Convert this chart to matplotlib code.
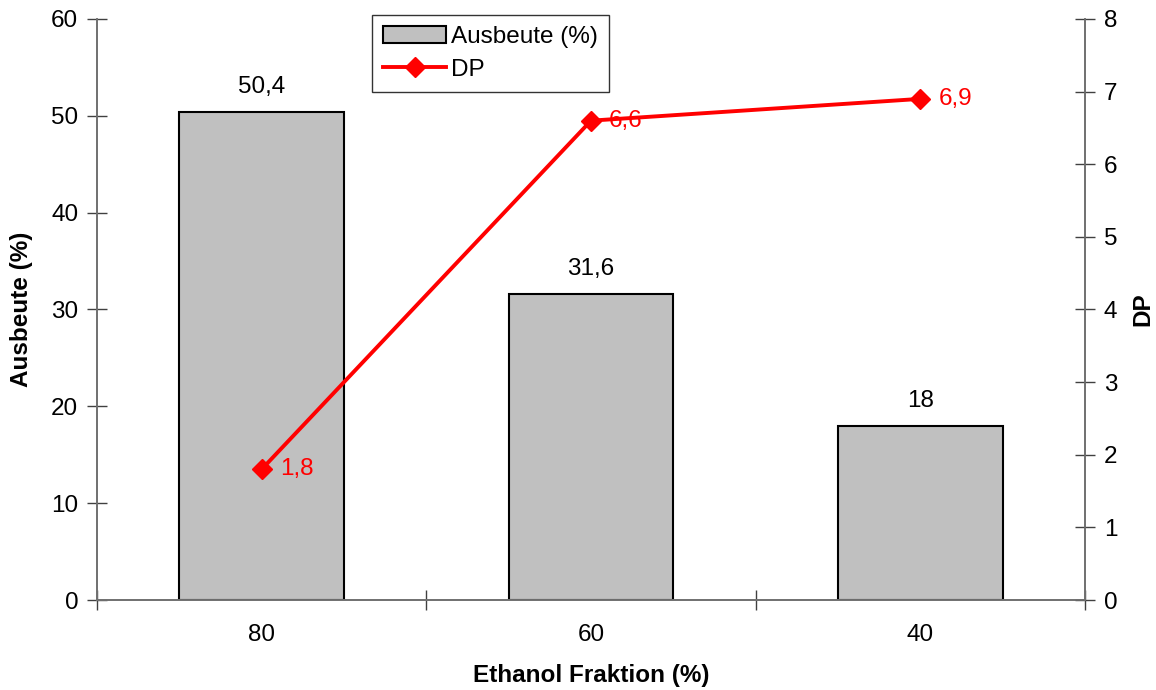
import matplotlib.pyplot as plt
import numpy as np

plt.rcParams['font.family'] = ['Liberation Sans', 'DejaVu Sans']

# data
fraktion = ['80', '60', '40']
ausbeute = [50.4, 31.6, 18]
dp = [1.8, 6.6, 6.9]

def de(v):
    return ('%g' % v).replace('.', ',')

fs = 17.5

fig = plt.figure(figsize=(11.56, 6.9), dpi=100)
ax = fig.add_axes([0.0839, 0.1304, 0.8547, 0.8421])
ax2 = ax.twinx()

x = np.arange(len(fraktion))
bars = ax.bar(x, ausbeute, width=0.5, color='#c0c0c0', edgecolor='black',
              linewidth=1.5, label='Ausbeute (%)', zorder=2)
for xi, v in zip(x, ausbeute):
    ax.annotate(de(v), (xi, v), xytext=(0, 10), textcoords='offset points',
                ha='center', va='bottom', fontsize=fs)

line, = ax2.plot(x, dp, color='red', lw=2.8, marker='D', markersize=10.5,
                 label='DP', zorder=3)
for xi, v in zip(x, dp):
    ax2.annotate(de(v), (xi, v), xytext=(13, 0), textcoords='offset points',
                 ha='left', va='center', fontsize=fs, color='red')

ax.set_xlim(-0.5, 2.5)
ax.set_ylim(0, 60)
ax2.set_ylim(0, 8)
ax.set_yticks(np.arange(0, 61, 10))
ax2.set_yticks(np.arange(0, 9, 1))
ax.set_xticks(x)
ax.set_xticklabels(fraktion)
ax.set_xticks([-0.5, 0.5, 1.5, 2.5], minor=True)
ax.tick_params(axis='x', which='major', length=0, labelsize=fs, pad=17)
ax.tick_params(axis='x', which='minor', direction='inout', length=15,
               width=1, color='#404040')
ax.tick_params(axis='y', direction='inout', length=15, width=1,
               color='#404040', labelsize=fs, pad=6)
ax2.tick_params(axis='y', direction='inout', length=15, width=1,
                color='#404040', labelsize=fs, pad=6)

for a in (ax, ax2):
    a.spines['top'].set_visible(False)
    for s in ('left', 'right', 'bottom'):
        a.spines[s].set_color('#707070')
        a.spines[s].set_linewidth(1.2)

ax.set_xlabel('Ethanol Fraktion (%)', fontsize=fs, fontweight='bold', labelpad=13)
ax.set_ylabel('Ausbeute (%)', fontsize=fs, fontweight='bold', labelpad=13)
ax2.set_ylabel('DP', fontsize=fs, fontweight='bold', labelpad=10)

leg = fig.legend([bars, line], ['Ausbeute (%)', 'DP'], loc='upper left',
                 bbox_to_anchor=(372 / 1156, 1 - 15 / 690), fontsize=fs,
                 frameon=True, fancybox=False, edgecolor='black',
                 handlelength=2.6, handletextpad=0.2, borderpad=0.45,
                 labelspacing=0.45, borderaxespad=0)
leg.get_frame().set_linewidth(1)

fig.savefig('out.png', dpi=100)
